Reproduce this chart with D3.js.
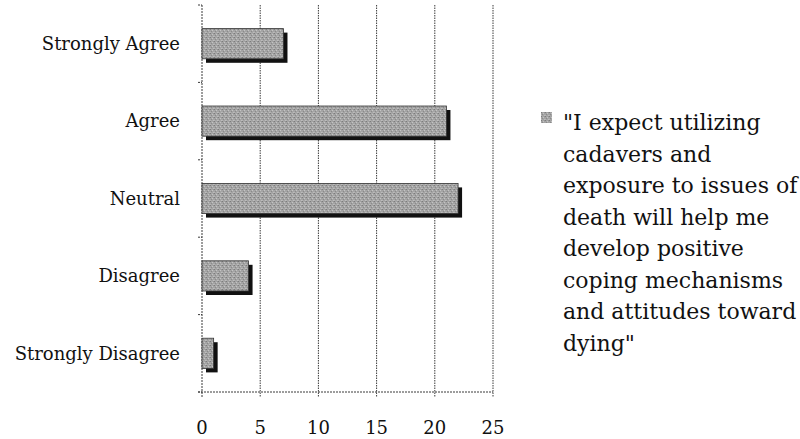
<!DOCTYPE html>
<html lang="en">
<head>
<meta charset="UTF-8" />
<title>Coping mechanisms survey</title>
<script src="https://cdnjs.cloudflare.com/ajax/libs/d3/7.9.0/d3.min.js"></script>
<style>
    body { margin: 0; background: #fff; }
    svg { display: block; }
    .label { font: 18px "DejaVu Serif", serif; fill: #111; }
    .legend { font: 22px "DejaVu Serif", serif; fill: #111; }
    .grid { stroke: #3a3a3a; stroke-width: 1; stroke-dasharray: 1.5, 1; }
    .axisLine { stroke: #3a3a3a; stroke-width: 1; stroke-dasharray: 2, 1; }
</style>
</head>
<body>
<svg width="800" height="439"></svg>
<script>
const categories = ["Strongly Agree", "Agree", "Neutral", "Disagree", "Strongly Disagree"];
const counts = [7, 21, 22, 4, 1];
const xTicks = [0, 5, 10, 15, 20, 25];
const legendLines = [
    "\"I expect utilizing",
    "cadavers and",
    "exposure to issues of",
    "death will help me",
    "develop positive",
    "coping mechanisms",
    "and attitudes toward",
    "dying\""
];

const margin = { top: 5, left: 202 };
const width = 291, height = 387;
const shadow = 4;

const svg = d3.select("svg");

// speckled grey fill like the printed bars
const defs = svg.append("defs");
const pat = defs.append("pattern")
    .attr("id", "speckle")
    .attr("patternUnits", "userSpaceOnUse")
    .attr("width", 4).attr("height", 4);
pat.append("rect").attr("width", 4).attr("height", 4).attr("fill", "#a4a4a4");
[[0, 0, "#7c7c7c"], [2, 1, "#c4c4c4"], [1, 2, "#8a8a8a"], [3, 3, "#bdbdbd"], [3, 0, "#949494"], [0, 3, "#b4b4b4"]]
    .forEach(([px, py, c]) => pat.append("rect").attr("x", px).attr("y", py).attr("width", 1).attr("height", 1).attr("fill", c));

const g = svg.append("g").attr("transform", `translate(${margin.left},${margin.top})`);

const x = d3.scaleLinear().domain([0, 25]).range([0, width]);
const y = d3.scaleBand().domain(categories).range([0, height]).paddingInner(0.61).paddingOuter(0.305);
const yOuter = d3.scaleBand().domain(categories).range([0, height]);

// vertical gridlines
g.selectAll(".grid")
    .data(xTicks.slice(1))
    .enter()
    .append("line")
    .attr("class", "grid")
    .attr("x1", (d) => x(d)).attr("x2", (d) => x(d))
    .attr("y1", 0).attr("y2", height + 5);

// axes lines
g.append("line").attr("class", "axisLine")
    .attr("x1", 0).attr("x2", 0).attr("y1", 0).attr("y2", height + 5);
g.append("line").attr("class", "axisLine")
    .attr("x1", -4).attr("x2", width).attr("y1", height).attr("y2", height);

// y-axis tick marks at band edges
const yEdges = categories.map((c) => yOuter(c)).concat([height]);
g.selectAll(".ytick")
    .data(yEdges)
    .enter()
    .append("line")
    .attr("class", "axisLine")
    .attr("x1", -4).attr("x2", 0)
    .attr("y1", (d) => d).attr("y2", (d) => d);

// bar shadows then bars
g.selectAll(".shadow")
    .data(categories)
    .enter()
    .append("rect")
    .attr("x", shadow)
    .attr("y", (d) => y(d) + shadow)
    .attr("width", (d, i) => x(counts[i]))
    .attr("height", y.bandwidth())
    .attr("fill", "#111");

g.selectAll(".bar")
    .data(categories)
    .enter()
    .append("rect")
    .attr("x", 0)
    .attr("y", (d) => y(d))
    .attr("width", (d, i) => x(counts[i]))
    .attr("height", y.bandwidth())
    .attr("fill", "url(#speckle)")
    .attr("stroke", "#333")
    .attr("stroke-width", 0.8);

// category labels
g.selectAll(".ylabel")
    .data(categories)
    .enter()
    .append("text")
    .attr("class", "label")
    .attr("x", -22)
    .attr("y", (d) => yOuter(d) + yOuter.bandwidth() / 2)
    .attr("dy", "0.35em")
    .attr("text-anchor", "end")
    .text((d) => d);

// x tick labels
g.selectAll(".xlabel")
    .data(xTicks)
    .enter()
    .append("text")
    .attr("class", "label")
    .attr("x", (d) => x(d))
    .attr("y", height + 36)
    .attr("dy", "0.35em")
    .attr("text-anchor", "middle")
    .text((d) => d);

// legend
const legend = svg.append("g").attr("transform", "translate(541,0)");
legend.append("rect")
    .attr("x", 0).attr("y", 112)
    .attr("width", 11).attr("height", 11)
    .attr("fill", "url(#speckle)");
legend.selectAll("text")
    .data(legendLines)
    .enter()
    .append("text")
    .attr("class", "legend")
    .attr("x", 22)
    .attr("y", (d, i) => 130 + i * 31.5)
    .text((d) => d);
</script>
</body>
</html>
